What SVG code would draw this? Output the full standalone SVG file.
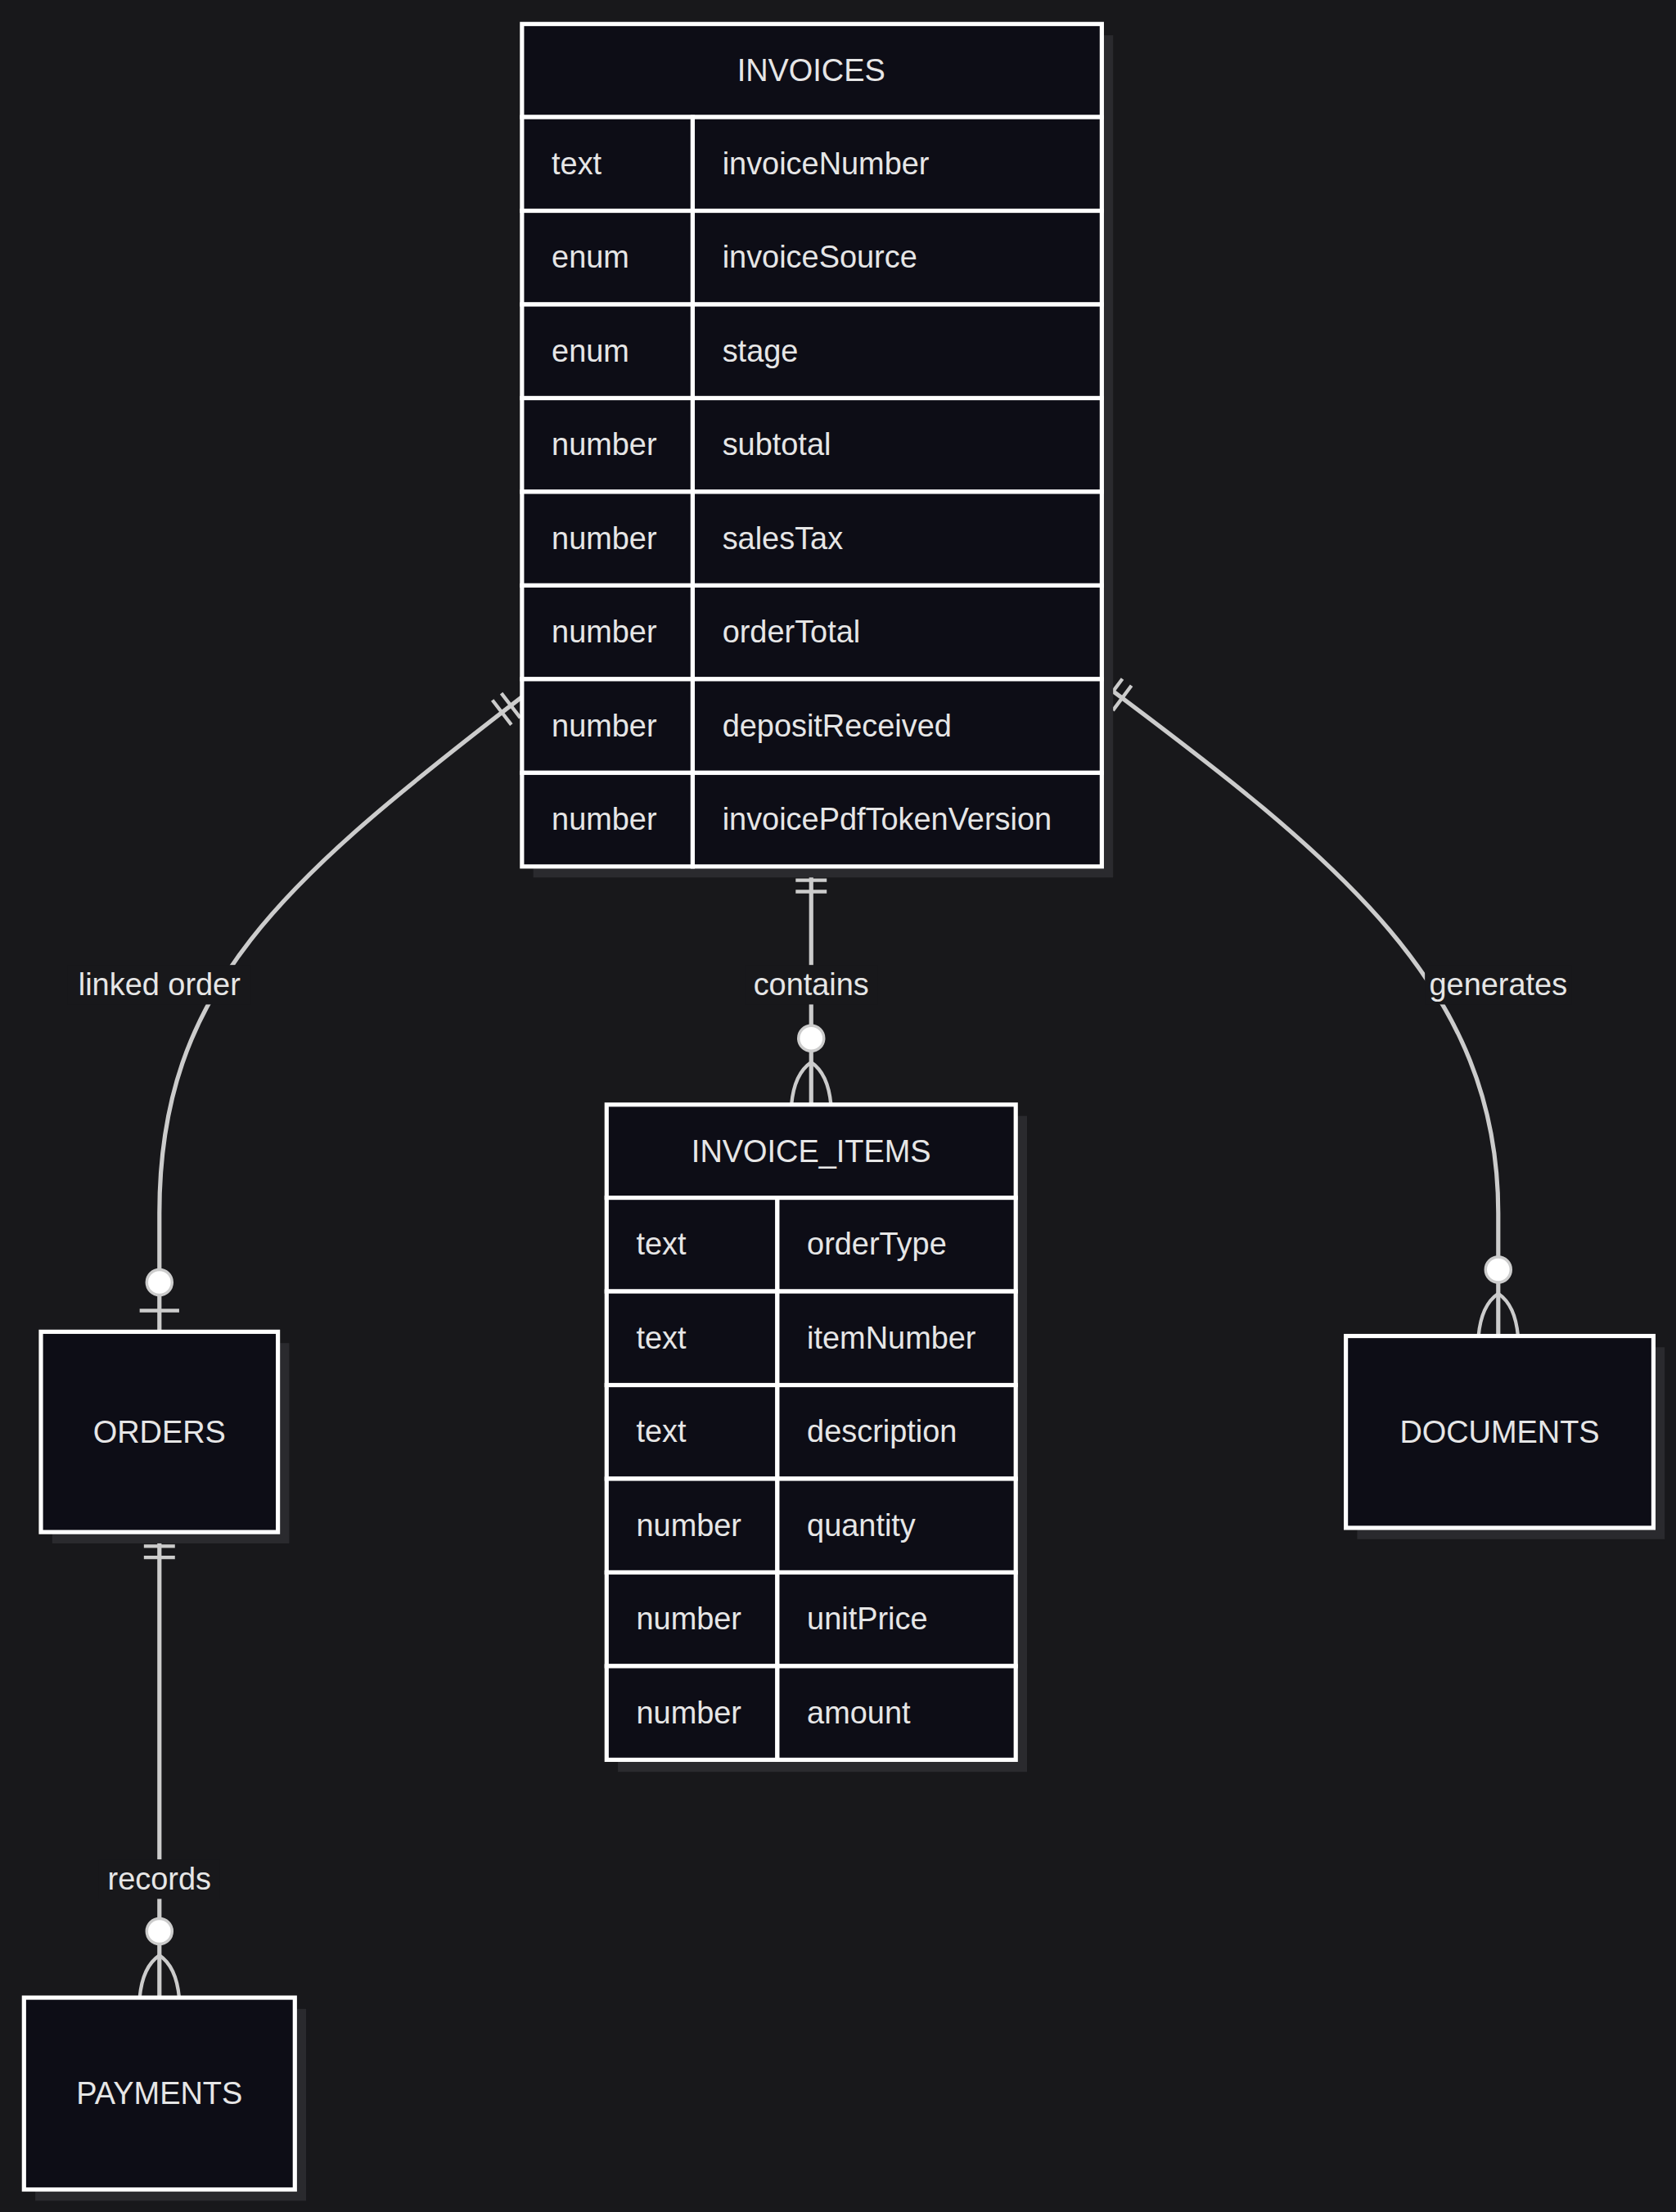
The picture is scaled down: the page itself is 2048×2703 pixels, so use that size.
<svg xmlns="http://www.w3.org/2000/svg" width="2048" height="2703" viewBox="0 0 2048 2703">
<style>
.bg{fill:#18181b}
.sh{fill:#2a2a2e}
.box{fill:#0d0d16;stroke:#ffffff;stroke-width:3}
.t{font-family:"Liberation Sans",Arial,sans-serif;font-size:22px;fill:#e6e6e6;dominant-baseline:central}
.c{text-anchor:middle}
.ln{fill:none;stroke:#cccccc;stroke-width:3}
.mk{fill:none;stroke:#cccccc;stroke-width:2.5}
.lb{fill:#18181b}
</style>
<defs>
<marker id="one" markerUnits="userSpaceOnUse" viewBox="-30 -15 32 30" refX="0" refY="0" markerWidth="32" markerHeight="30" orient="auto-start-reverse">
<path class="mk" d="M-10,-11 L-10,11 M-18,-11 L-18,11"/>
</marker>
<marker id="zeroMany" markerUnits="userSpaceOnUse" viewBox="-60 -18 62 36" refX="0" refY="0" markerWidth="62" markerHeight="36" orient="auto-start-reverse">
<path class="mk" d="M0,-14 Q-22,-12 -30,0 Q-22,12 0,14"/>
<circle cx="-47" cy="0" r="9" fill="#ffffff" stroke="#cccccc" stroke-width="2"/>
</marker>
<marker id="zeroOne" markerUnits="userSpaceOnUse" viewBox="-50 -18 52 36" refX="0" refY="0" markerWidth="52" markerHeight="36" orient="auto-start-reverse">
<path class="mk" d="M-15,-14 L-15,14"/>
<circle cx="-35" cy="0" r="9" fill="#ffffff" stroke="#cccccc" stroke-width="2"/>
</marker>
</defs>
<rect class="bg" x="0" y="0" width="2048" height="2703"/>
<g transform="scale(1.72391)">
<g id="connectors">
<path class="ln" d="M370,494 C200,625 113,700 113,860 L113,944" marker-start="url(#one)" marker-end="url(#zeroOne)"/>
<path class="ln" d="M575,614 L575,783" marker-start="url(#one)" marker-end="url(#zeroMany)"/>
<path class="ln" d="M781,484 C950,610 1062,700 1062,860 L1062,947" marker-start="url(#one)" marker-end="url(#zeroMany)"/>
<path class="ln" d="M113,1086 L113,1416" marker-start="url(#one)" marker-end="url(#zeroMany)"/>
<rect class="lb" x="48" y="684" width="130" height="28"/><text class="t c" x="113" y="698">linked order</text>
<rect class="lb" x="528" y="684" width="94" height="28"/><text class="t c" x="575" y="698">contains</text>
<rect class="lb" x="1010" y="684" width="104" height="28"/><text class="t c" x="1062" y="698">generates</text>
<rect class="lb" x="70" y="1318" width="86" height="28"/><text class="t c" x="113" y="1332">records</text>
</g>
<g id="INVOICES">
<rect class="sh" x="378" y="25" width="411" height="597"/>
<rect class="box" x="370" y="17" width="411" height="66"/>
<text class="t c" x="575" y="50">INVOICES</text>
<g>
<rect class="box" x="370" y="83" width="121" height="66.4"/><rect class="box" x="491" y="83" width="290" height="66.4"/>
<rect class="box" x="370" y="149.4" width="121" height="66.4"/><rect class="box" x="491" y="149.4" width="290" height="66.4"/>
<rect class="box" x="370" y="215.8" width="121" height="66.4"/><rect class="box" x="491" y="215.8" width="290" height="66.4"/>
<rect class="box" x="370" y="282.2" width="121" height="66.4"/><rect class="box" x="491" y="282.2" width="290" height="66.4"/>
<rect class="box" x="370" y="348.6" width="121" height="66.4"/><rect class="box" x="491" y="348.6" width="290" height="66.4"/>
<rect class="box" x="370" y="415" width="121" height="66.4"/><rect class="box" x="491" y="415" width="290" height="66.4"/>
<rect class="box" x="370" y="481.4" width="121" height="66.4"/><rect class="box" x="491" y="481.4" width="290" height="66.4"/>
<rect class="box" x="370" y="547.8" width="121" height="66.4"/><rect class="box" x="491" y="547.8" width="290" height="66.4"/>
</g>
<text class="t" x="391" y="116">text</text><text class="t" x="512" y="116">invoiceNumber</text>
<text class="t" x="391" y="182.4">enum</text><text class="t" x="512" y="182.4">invoiceSource</text>
<text class="t" x="391" y="248.8">enum</text><text class="t" x="512" y="248.8">stage</text>
<text class="t" x="391" y="315.2">number</text><text class="t" x="512" y="315.2">subtotal</text>
<text class="t" x="391" y="381.6">number</text><text class="t" x="512" y="381.6">salesTax</text>
<text class="t" x="391" y="448">number</text><text class="t" x="512" y="448">orderTotal</text>
<text class="t" x="391" y="514.4">number</text><text class="t" x="512" y="514.4">depositReceived</text>
<text class="t" x="391" y="580.8">number</text><text class="t" x="512" y="580.8">invoicePdfTokenVersion</text>
</g>
<g id="INVOICE_ITEMS">
<rect class="sh" x="438" y="791" width="290" height="465"/>
<rect class="box" x="430" y="783" width="290" height="66"/>
<text class="t c" x="575" y="816">INVOICE_ITEMS</text>
<rect class="box" x="430" y="849" width="121" height="66.4"/><rect class="box" x="551" y="849" width="169" height="66.4"/>
<rect class="box" x="430" y="915.4" width="121" height="66.4"/><rect class="box" x="551" y="915.4" width="169" height="66.4"/>
<rect class="box" x="430" y="981.8" width="121" height="66.4"/><rect class="box" x="551" y="981.8" width="169" height="66.4"/>
<rect class="box" x="430" y="1048.2" width="121" height="66.4"/><rect class="box" x="551" y="1048.2" width="169" height="66.4"/>
<rect class="box" x="430" y="1114.6" width="121" height="66.4"/><rect class="box" x="551" y="1114.6" width="169" height="66.4"/>
<rect class="box" x="430" y="1181" width="121" height="66.4"/><rect class="box" x="551" y="1181" width="169" height="66.4"/>
<text class="t" x="451" y="882">text</text><text class="t" x="572" y="882">orderType</text>
<text class="t" x="451" y="948.4">text</text><text class="t" x="572" y="948.4">itemNumber</text>
<text class="t" x="451" y="1014.8">text</text><text class="t" x="572" y="1014.8">description</text>
<text class="t" x="451" y="1081.2">number</text><text class="t" x="572" y="1081.2">quantity</text>
<text class="t" x="451" y="1147.6">number</text><text class="t" x="572" y="1147.6">unitPrice</text>
<text class="t" x="451" y="1214">number</text><text class="t" x="572" y="1214">amount</text>
</g>
<g id="ORDERS">
<rect class="sh" x="37" y="952" width="168" height="142"/>
<rect class="box" x="29" y="944" width="168" height="142"/>
<text class="t c" x="113" y="1015">ORDERS</text>
</g>
<g id="DOCUMENTS">
<rect class="sh" x="962" y="955" width="218" height="136"/>
<rect class="box" x="954" y="947" width="218" height="136"/>
<text class="t c" x="1063" y="1015">DOCUMENTS</text>
</g>
<g id="PAYMENTS">
<rect class="sh" x="25" y="1424" width="192" height="136"/>
<rect class="box" x="17" y="1416" width="192" height="136"/>
<text class="t c" x="113" y="1484">PAYMENTS</text>
</g>
</g>
</svg>
